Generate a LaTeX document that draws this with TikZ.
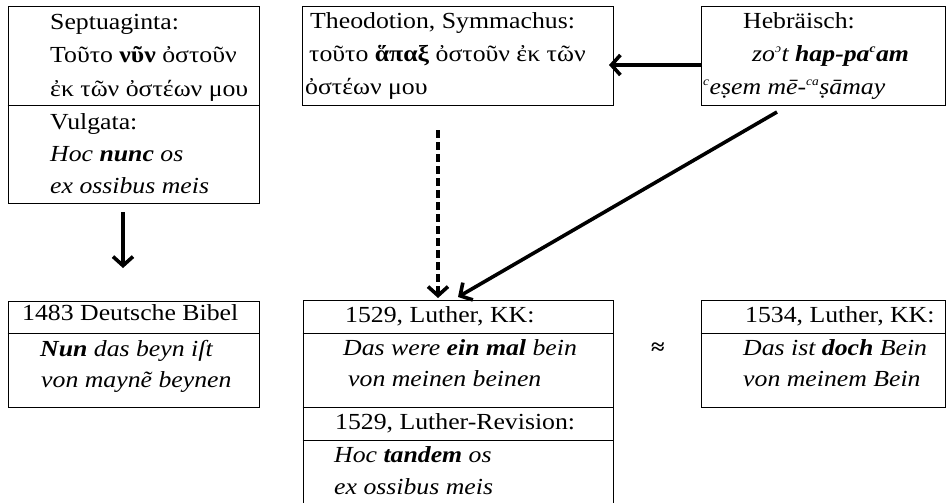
\documentclass[tikz,border=0pt]{standalone}
\usepackage{fontspec}
\setmainfont{Liberation Serif}[FakeStretch=1.12]
\usetikzlibrary{arrows.meta}
\tikzset{
  box/.style={draw, line width=1pt, inner sep=0pt, rectangle},
  divider/.style={line width=1pt},
  txt/.style={anchor=base west, inner sep=0pt, font=\fontsize{23}{28}\selectfont},
  arr/.style={line width=3.6pt, -{Straight Barb[length=9pt,width=20pt,line width=3.6pt]}},
  dasharr/.style={arr, dash pattern=on 8pt off 4pt},
}
\begin{document}
\begin{tikzpicture}[x=1pt,y=-1pt]
\useasboundingbox (0,0) rectangle (946,503);
\begin{scope}
\clip (0,0) rectangle (946,503);
% boxes
\node[box, minimum width=251pt, minimum height=196pt] (sept) at (133.5,105) {};
\node[box, minimum width=311pt, minimum height=99pt] (theo) at (457.5,56.5) {};
\node[box, minimum width=244pt, minimum height=99pt] (heb) at (823,56.5) {};
\node[box, minimum width=251pt, minimum height=106pt] (dtb) at (133.5,354) {};
\node[box, minimum width=310pt, minimum height=214pt] (lut) at (458,407) {};
\node[box, minimum width=244pt, minimum height=107pt] (lut34) at (823,353.5) {};
\end{scope}
% dividers
\draw[divider] (sept.west |- 0,106) -- (sept.east |- 0,106);
\draw[divider] (dtb.west |- 0,333) -- (dtb.east |- 0,333);
\draw[divider] (lut.west |- 0,333) -- (lut.east |- 0,333);
\draw[divider] (lut.west |- 0,407) -- (lut.east |- 0,407);
\draw[divider] (lut.west |- 0,440) -- (lut.east |- 0,440);
\draw[divider] (lut34.west |- 0,333) -- (lut34.east |- 0,333);
% texts box 1
\node[txt] (s1) at (50,30) {Septuaginta:};
\node[txt] (s2) at (50,63) {Τοῦτο \textbf{νῦν} ὀστοῦν};
\node[txt] (s3) at (50,96) {ἐκ τῶν ὀστέων μου};
\node[txt] (v1) at (50,129) {Vulgata:};
\node[txt] (v2) at (50,161) {\textit{Hoc \textbf{nunc} os}};
\node[txt] (v3) at (50,193) {\textit{ex ossibus meis}};
% box 2
\node[txt] (th1) at (310,29) {Theodotion, Symmachus:};
\node[txt] (th2) at (309,62) {τοῦτο \textbf{ἅπαξ} ὀστοῦν ἐκ τῶν};
\node[txt] (th3) at (305,95) {ὀστέων μου};
% box 3
\node[txt] (h1) at (743,29) {Hebräisch:};
\node[txt] (h2) at (752,62) {\textit{zo\textsuperscript{\fontsize{12}{12}\selectfont ɔ}t \textbf{hap-pa\textsuperscript{\fontsize{12}{12}\selectfont c}am}}};
\node[txt] (h3) at (703,95) {\textit{\textsuperscript{\fontsize{12}{12}\selectfont c}eṣem mē-\textsuperscript{\fontsize{12}{12}\selectfont ca}ṣāmay}};
% box 4
\node[txt] (d1) at (22,320) {1483 Deutsche Bibel};
\node[txt] (d2) at (40,356) {\textit{\textbf{Nun} das beyn iſt}};
\node[txt] (d3) at (41,387) {\textit{von maynẽ beynen}};
% box 5
\node[txt] (l1) at (345,322) {1529, Luther, KK:};
\node[txt] (l2) at (343,355) {\textit{Das were \textbf{ein mal} bein}};
\node[txt] (l3) at (348,386) {\textit{von meinen beinen}};
\node[txt] (l4) at (335,429) {1529, Luther-Revision:};
\node[txt] (l5) at (334,462) {\textit{Hoc \textbf{tandem} os}};
\node[txt] (l6) at (334,494) {\textit{ex ossibus meis}};
% box 6
\node[txt] (m1) at (745,322) {1534, Luther, KK:};
\node[txt] (m2) at (743,355) {\textit{Das ist \textbf{doch} Bein}};
\node[txt] (m3) at (743,386) {\textit{von meinem Bein}};
% approx
\node[inner sep=0pt, font=\fontsize{22}{24}\selectfont\bfseries] (apx) at (658,349) {≈};
% connectors
\coordinate (vA) at (123,212);
\coordinate (vB) at (123,268);
\draw[arr] (vA) -- (vB);
\coordinate (hA) at (702,65);
\coordinate (hB) at (609,65);
\draw[arr] (hA) -- (hB);
\coordinate (dA) at (438,130);
\coordinate (dB) at (438,298);
\draw[dasharr] (dA) -- (dB);
\coordinate (gA) at (777,112);
\coordinate (gB) at (458,297);
\draw[arr] (gA) -- (gB);
\end{tikzpicture}
\end{document}
